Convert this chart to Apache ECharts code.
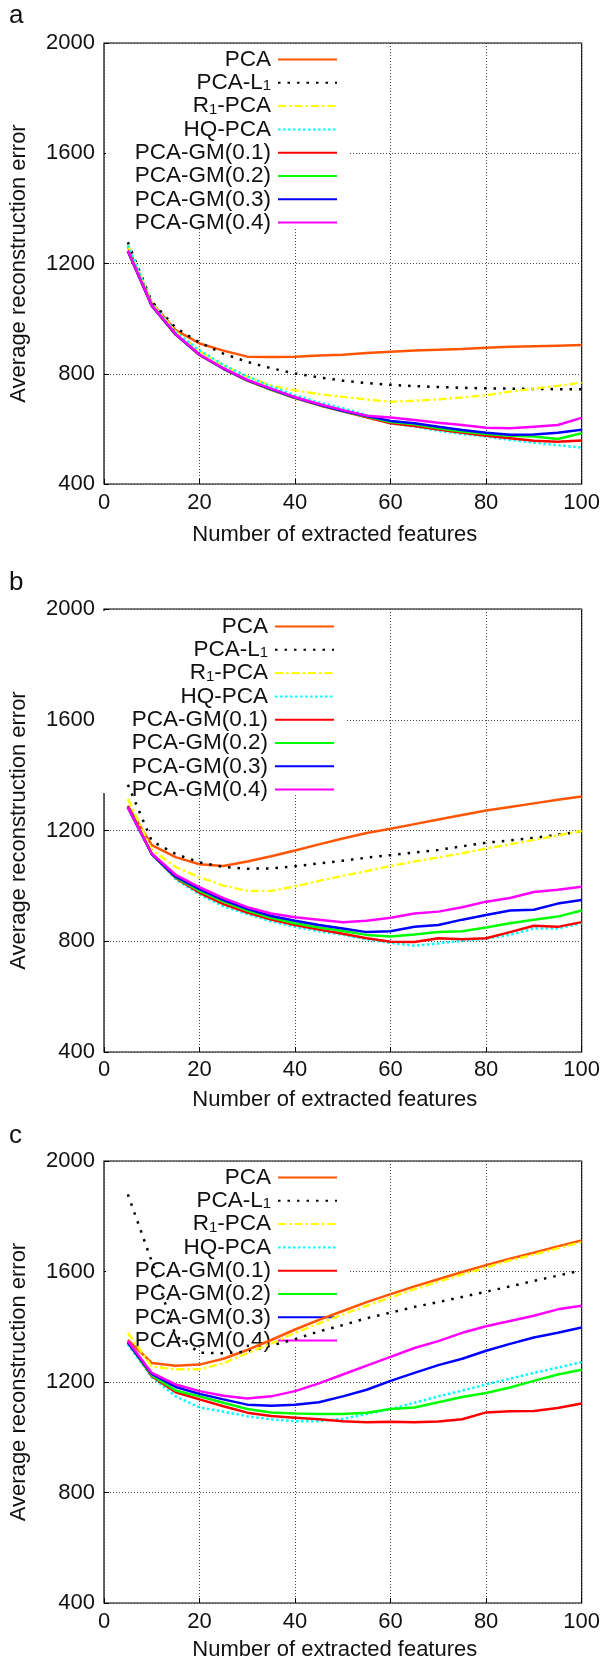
<!DOCTYPE html>
<html>
<head>
<meta charset="utf-8">
<script src="https://cdn.jsdelivr.net/npm/echarts@6/dist/echarts.min.js"></script>
<style>
html,body{margin:0;padding:0;background:#fff;}
#c{width:603px;height:1663px;}
</style>
</head>
<body>
<div id="c"></div>
<script>
// x values (number of extracted features)
const X = [5,10,15,20,25,30,35,40,45,50,55,60,65,70,75,80,85,90,95,100];
const NAMES = ['PCA','PCA-L1','R1-PCA','HQ-PCA','PCA-GM(0.1)','PCA-GM(0.2)','PCA-GM(0.3)','PCA-GM(0.4)'];
const PANEL_LABELS = ['a','b','c'];
const X_TICKS = [0,20,40,60,80,100];
const Y_TICKS = [400,800,1200,1600,2000];

// Panel a
const pcaA = [1262,1057,958,910,884,862,861,862,866,869,875,880,884,887,890,894,898,900,902,904];
const l1A  = [1277,1062,967,913,873,843,820,801,787,775,766,760,755,752,749,747,746,745,744,744];
const r1A  = [1268,1055,953,882,830,790,757,740,726,716,707,698,702,707,714,722,735,746,756,768];
const hqA  = [1266,1052,950,885,832,790,754,722,696,675,650,620,608,593,581,572,560,550,541,532];
const gm1A = [1244,1046,942,868,818,775,742,712,686,664,642,620,610,598,586,575,566,557,553,558];
const gm2A = [1245,1047,943,869,819,776,743,713,687,665,645,625,617,602,590,581,575,572,563,584];
const gm3A = [1245,1047,943,869,819,777,744,714,688,666,647,629,620,608,596,586,579,580,586,597];
const gm4A = [1246,1048,944,870,820,778,746,715,690,668,648,641,632,622,614,604,602,608,614,640];

// Panel b
const pcaB = [1288,1147,1104,1078,1072,1088,1107,1128,1150,1171,1191,1206,1223,1240,1256,1272,1285,1298,1311,1323];
const l1B  = [1365,1162,1115,1085,1068,1062,1063,1071,1081,1091,1102,1111,1120,1130,1143,1156,1164,1173,1185,1197];
const r1B  = [1314,1130,1068,1031,1001,982,982,998,1018,1036,1053,1072,1088,1103,1118,1135,1150,1166,1182,1198];
const hqB  = [1283,1115,1024,969,926,898,872,852,836,823,807,794,784,792,801,810,823,846,846,865];
const gm1B = [1288,1115,1029,975,934,904,878,859,842,827,811,798,797,811,807,811,833,856,852,869];
const gm2B = [1283,1115,1031,982,943,911,885,865,850,837,823,817,824,833,836,850,865,878,889,911];
const gm3B = [1283,1115,1033,988,949,917,891,874,859,846,833,836,852,859,878,895,911,914,936,949];
const gm4B = [1283,1117,1040,995,956,923,900,887,878,869,874,885,900,907,923,943,956,978,986,997];

// Panel c
const pcaC = [1352,1269,1259,1263,1284,1316,1352,1390,1425,1457,1489,1518,1546,1572,1598,1623,1646,1668,1691,1712];
const l1C  = [1879,1636,1367,1306,1304,1310,1332,1355,1383,1406,1431,1451,1472,1489,1508,1527,1546,1566,1585,1604];
const r1C  = [1378,1256,1246,1246,1268,1304,1339,1378,1412,1444,1476,1506,1536,1563,1589,1614,1640,1661,1684,1706];
const hqC  = [1336,1218,1148,1108,1093,1076,1065,1058,1058,1067,1084,1102,1125,1148,1169,1191,1212,1233,1252,1272];
const gm1C = [1345,1221,1163,1137,1112,1089,1077,1071,1065,1058,1054,1056,1054,1057,1065,1090,1094,1095,1106,1122];
const gm2C = [1342,1224,1169,1148,1125,1102,1090,1086,1084,1084,1089,1102,1108,1127,1146,1160,1180,1204,1227,1244];
const gm3C = [1342,1229,1182,1157,1137,1118,1114,1118,1127,1148,1172,1204,1233,1261,1284,1313,1338,1361,1378,1397];
const gm4C = [1348,1233,1191,1167,1150,1140,1148,1167,1195,1227,1259,1291,1323,1348,1378,1402,1421,1440,1463,1476];

const PANELS = [
  [pcaA,l1A,r1A,hqA,gm1A,gm2A,gm3A,gm4A],
  [pcaB,l1B,r1B,hqB,gm1B,gm2B,gm3B,gm4B],
  [pcaC,l1C,r1C,hqC,gm1C,gm2C,gm3C,gm4C]
];

const STYLES = [
  {color:'#ff5500', width:2.5, type:'solid'},
  {color:'#000000', width:2.5, type:[2.5,7]},
  {color:'#ffff00', width:2.4, type:[8,3,2.5,3]},
  {color:'#00ffff', width:2.5, type:[2.5,2.5]},
  {color:'#ff0000', width:2.5, type:'solid'},
  {color:'#00ff00', width:2.5, type:'solid'},
  {color:'#0000ff', width:2.5, type:'solid'},
  {color:'#ff00ff', width:2.5, type:'solid'}
];

const FONT = '"Liberation Sans", Arial, sans-serif';
const TXT = '#111';

const GRIDS = [
  {left:104, top:43, width:481, height:441},
  {left:101, top:609, width:481, height:443},
  {left:104, top:1161, width:481, height:442}
];
const X_NAME_GAP = [40,37,36];
const X_LABEL_MARGIN = [8,7,7.5];
const LEG_TOP = [48,615,1166];
const LEG_BOX_H = [184,182,183];
const LETTER_Y = [18,585,1138];

const grid = [], xAxis = [], yAxis = [], series = [], legend = [], graphic = [];

PANELS.forEach((vals, p) => {
  const g = GRIDS[p];
  grid.push({left:g.left, top:g.top, width:g.width, height:g.height, show:true,
    borderColor:'#000', borderWidth:1.2, backgroundColor:'transparent'});
  xAxis.push({type:'value', gridIndex:p, min:X_TICKS[0], max:X_TICKS[X_TICKS.length-1], interval:20,
    name:'Number of extracted features', nameLocation:'middle', nameGap:X_NAME_GAP[p],
    nameTextStyle:{fontFamily:FONT, fontSize:22, color:TXT, padding:[0,16,0,0]},
    axisLine:{show:false}, axisTick:{show:true, inside:true, length:5, lineStyle:{color:'#000'}},
    axisLabel:{fontFamily:FONT, fontSize:22, color:TXT, margin:X_LABEL_MARGIN[p], formatter:v=>String(v)},
    splitLine:{show:true, lineStyle:{color:'#444', width:1, type:[1,2]}}
  });
  yAxis.push({type:'value', gridIndex:p, min:Y_TICKS[0], max:Y_TICKS[Y_TICKS.length-1], interval:400,
    name:'Average reconstruction error', nameLocation:'middle', nameGap:74, nameRotate:90,
    nameTextStyle:{fontFamily:FONT, fontSize:22, color:TXT},
    axisLine:{show:false}, axisTick:{show:true, inside:true, length:5, lineStyle:{color:'#000'}},
    axisLabel:{fontFamily:FONT, fontSize:22, color:TXT, margin:9, formatter:v=>String(v)},
    splitLine:{show:true, lineStyle:{color:'#444', width:1, type:[1,2]}}
  });
  vals.forEach((arr, i) => {
    series.push({
      type:'line', name:NAMES[i], xAxisIndex:p, yAxisIndex:p,
      data:X.map((x,k)=>[x, arr[k]]),
      symbol:'none', z:3, silent:true, animation:false,
      lineStyle:{color:STYLES[i].color, width:STYLES[i].width, type:STYLES[i].type},
      itemStyle:{color:STYLES[i].color}
    });
  });
  legend.push({
    orient:'vertical', align:'right', right:603-(g.left+g.width-247), top:LEG_TOP[p],
    padding:0, itemGap:0.3, itemWidth:59, itemHeight:2, selectedMode:false, z:2,
    itemStyle:{opacity:0, borderWidth:0},
    data:NAMES,
    formatter:function(n){
      if(n==='PCA-L1') return '{t|PCA-L}{s|1}{p|}';
      if(n==='R1-PCA') return '{t|R}{s|1}{t|-PCA}{p|}';
      return '{t|'+n+'}{p|}';
    },
    textStyle:{fontFamily:FONT, fontSize:22.5, color:TXT, lineHeight:22,
      rich:{
        t:{fontFamily:FONT, fontSize:22.5, color:TXT, lineHeight:22},
        s:{fontFamily:FONT, fontSize:15, color:TXT, lineHeight:4, verticalAlign:'bottom'},
        p:{width:2, lineHeight:22}
      }
    }
  });
  graphic.push({type:'rect', z:1, silent:true,
    shape:{x:g.left+2, y:g.top+2, width:244, height:LEG_BOX_H[p]},
    style:{fill:'#fff'}});
  graphic.push({type:'text', z:5, left:9, top:LETTER_Y[p]-15,
    style:{text:PANEL_LABELS[p], font:'26px '+FONT, fill:TXT}});
});

const chart = echarts.init(document.getElementById('c'), null, {renderer:'canvas'});
chart.setOption({
  animation:false,
  backgroundColor:'#fff',
  grid, xAxis, yAxis, series, legend, graphic
});
</script>
</body>
</html>
